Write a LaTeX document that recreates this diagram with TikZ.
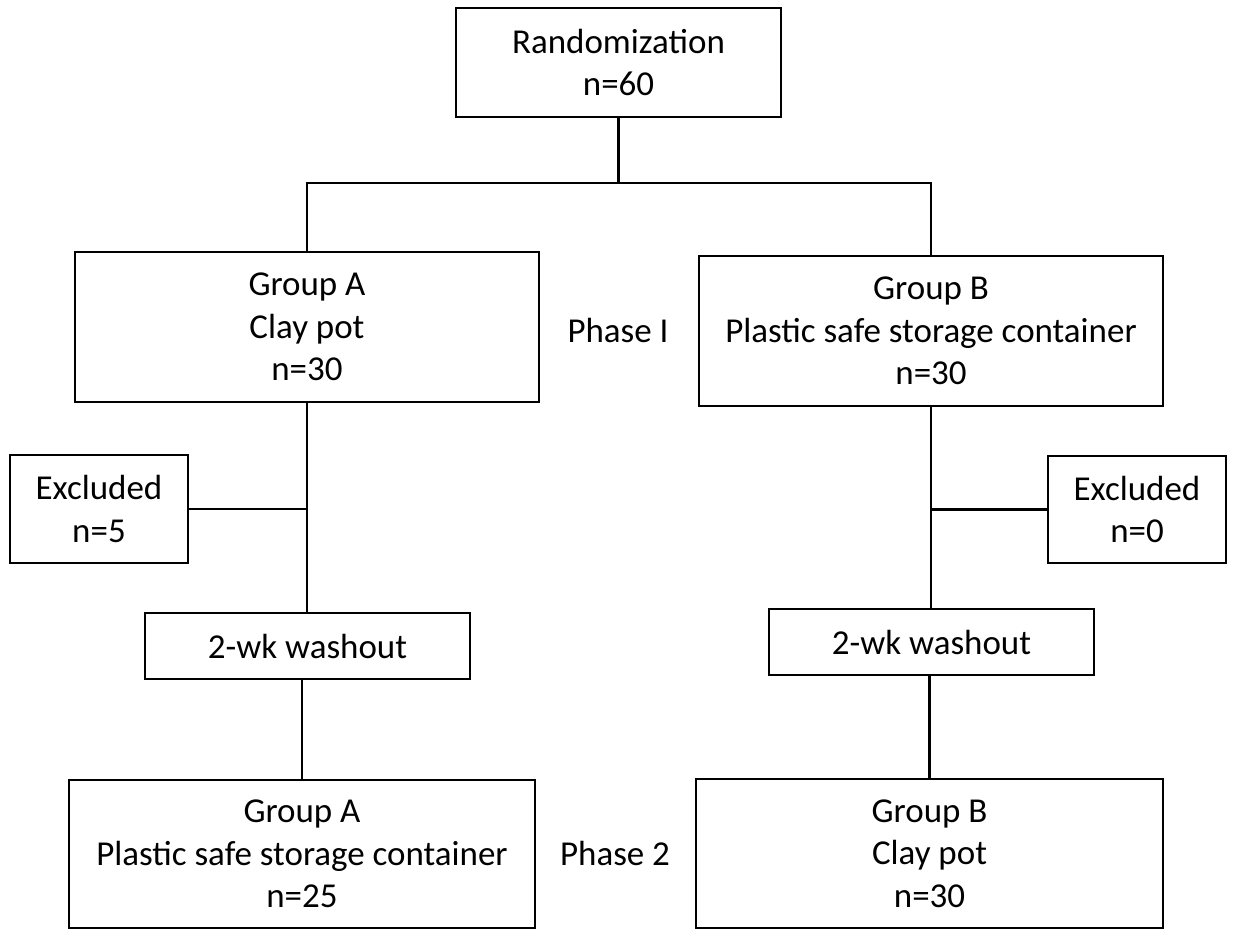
\documentclass[tikz,border=0pt]{standalone}
\usepackage{fontspec}
\setmainfont{Carlito}
\usepackage{tikz}
\usetikzlibrary{calc}
\usetikzlibrary{positioning}
\tikzset{flowbox/.style={draw,line width=1.3pt,align=center,inner sep=0pt},
  phaselbl/.style={align=center,inner sep=0pt}}

\begin{document}
\begin{tikzpicture}[x=0.02cm,y=-0.02cm,line width=1.3pt,line join=miter,font=\fontsize{19.9}{24.2}\selectfont]
\useasboundingbox (0,0) rectangle (1233,931);
% --- top: randomization and split
\node[flowbox,minimum width=6.5cm,minimum height=2.18cm] (rand) at (618.5,62.5) {Randomization\\n=60};
\coordinate (split) at (618.5,183);
% --- phase I
\node[flowbox,minimum width=9.28cm,minimum height=3.0cm] (grpA1) at (307,327) {Group A\\Clay pot\\n=30};
\node[flowbox,minimum width=9.28cm,minimum height=3.0cm] (grpB1) at (931,331) {Group B\\Plastic safe storage container\\n=30};
\node[phaselbl] (ph1) at (618,330) {Phase I};
% --- exclusions and washout
\node[flowbox,minimum width=3.56cm,minimum height=2.16cm] (exclA) at (99,509) {Excluded\\n=5};
\node[flowbox,minimum width=3.56cm,minimum height=2.14cm] (exclB) at (1137,509.5) {Excluded\\n=0};
\node[flowbox,minimum width=6.5cm,minimum height=1.32cm] (washA) at (307.5,646) {2-wk washout};
\node[flowbox,minimum width=6.5cm,minimum height=1.32cm] (washB) at (931.5,642) {2-wk washout};
% --- phase 2
\node[flowbox,minimum width=9.32cm,minimum height=2.96cm] (grpA2) at (302,854) {Group A\\Plastic safe storage container\\n=25};
\node[flowbox,minimum width=9.34cm,minimum height=2.98cm] (grpB2) at (929.5,853.5) {Group B\\Clay pot\\n=30};
\node[phaselbl] (ph2) at (615,853) {Phase 2};
% --- connectors
\draw (rand.south) -- (split);
\draw (grpA1.north) |- (split) -| (grpB1.north);
\draw (grpA1.south) -- (washA.north -| grpA1.south);
\draw (exclA.east) -- (exclA.east -| grpA1.south);
\draw (grpB1.south) -- (washB.north -| grpB1.south);
\draw (exclB.west) -- (exclB.west -| grpB1.south);
\draw (washA.south -| grpA2.north) -- (grpA2.north);
\draw (washB.south -| grpB2.north) -- (grpB2.north);
\end{tikzpicture}
\end{document}
